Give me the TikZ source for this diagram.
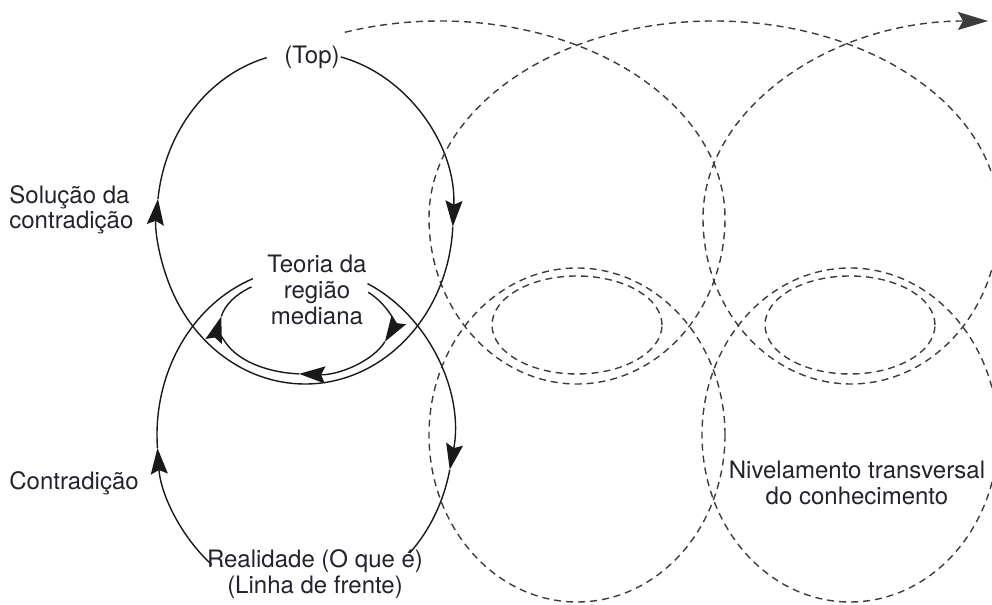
\documentclass[tikz,border=0pt]{standalone}
\usepackage{fontspec}
\setmainfont{TeX Gyre Heros}
\usetikzlibrary{arrows.meta}
\definecolor{inkline}{RGB}{25,25,25}
\definecolor{dashline}{RGB}{60,60,60}
\definecolor{labeltext}{RGB}{35,35,45}

\begin{document}
\begin{tikzpicture}[
    x=0.5pt, y=0.5pt,
    loop/.style={draw=inkline, line width=0.7pt},
    ghost/.style={draw=dashline, line width=0.7pt, dash pattern=on 3.5pt off 2.5pt},
    arrow/.style={-{Stealth[length=13pt, width=8.5pt, inset=2pt]}},
    bigarrow/.style={-{Stealth[length=15pt, width=9pt, inset=2.5pt]}},
    note/.style={font=\fontsize{12}{12.8}\selectfont, text=labeltext, align=center, inner sep=0pt}
]
\useasboundingbox (0,0) rectangle (992,605);

% centres of the loops
\coordinate (upper) at (305,387);
\coordinate (lower) at (305,170);
\coordinate (middle) at (305,280);

% upper solid loop
\draw[loop, arrow] (upper) ++(76:148 and 166) arc[start angle=76, end angle=-3, x radius=148, y radius=166];
\draw[loop, arrow] (upper) ++(-3:148 and 166) arc[start angle=-3, end angle=-186.6, x radius=148, y radius=166];
\draw[loop] (upper) ++(-186.6:148 and 166) arc[start angle=-186.6, end angle=-255, x radius=148, y radius=166];

% lower solid loop
\draw[loop, arrow] (lower) ++(65:148 and 167) arc[start angle=65, end angle=-12, x radius=148, y radius=167];
\draw[loop] (lower) ++(-12:148 and 167) arc[start angle=-12, end angle=-45, x radius=148, y radius=167];
\draw[loop, arrow] (lower) ++(231:148 and 167) arc[start angle=231, end angle=184.5, x radius=148, y radius=167];
\draw[loop] (lower) ++(184.5:148 and 167) arc[start angle=184.5, end angle=110.6, x radius=148, y radius=167];

% middle loop
\draw[loop, arrow] (middle) ++(42:85 and 49) arc[start angle=42, end angle=-20, x radius=85, y radius=49];
\draw[loop, arrow] (middle) ++(-20:85 and 49) arc[start angle=-20, end angle=-94, x radius=85, y radius=49];
\draw[loop, arrow] (middle) ++(-94:85 and 49) arc[start angle=-94, end angle=-190, x radius=85, y radius=49];
\draw[loop] (middle) ++(-190:85 and 49) arc[start angle=-190, end angle=-231, x radius=85, y radius=49];

% dashed coil
\draw[ghost, bigarrow] (440,387) ++(109.5:285 and 197)
    arc[start angle=109.5, end angle=0, x radius=285, y radius=197]
    arc[start angle=0, end angle=-180, x radius=148, y radius=166]
    arc[start angle=180, end angle=0, x radius=285, y radius=197]
    arc[start angle=0, end angle=-180, x radius=148, y radius=166]
    arc[start angle=180, end angle=90, x radius=285, y radius=197];

\foreach \cx in {577,850} {
    \draw[ghost] (\cx,170) ellipse[x radius=148, y radius=167];
    \draw[ghost] (\cx,280) ellipse[x radius=85, y radius=49];
}

\node[note] (top) at (312,548) {(Top)};
\node[note, anchor=west, align=left] (solucao) at (9,395) {Solução da\\contradição};
\node[note] (teoria) at (317,315) {Teoria da\\região\\mediana};
\node[note, anchor=west] (contradicao) at (9,122) {Contradição};
\node[note] (realidade) at (315,31) {Realidade (O que é)\\(Linha de frente)};
\node[note] (nivelamento) at (857,122) {Nivelamento transversal\\do conhecimento};
\end{tikzpicture}
\end{document}
